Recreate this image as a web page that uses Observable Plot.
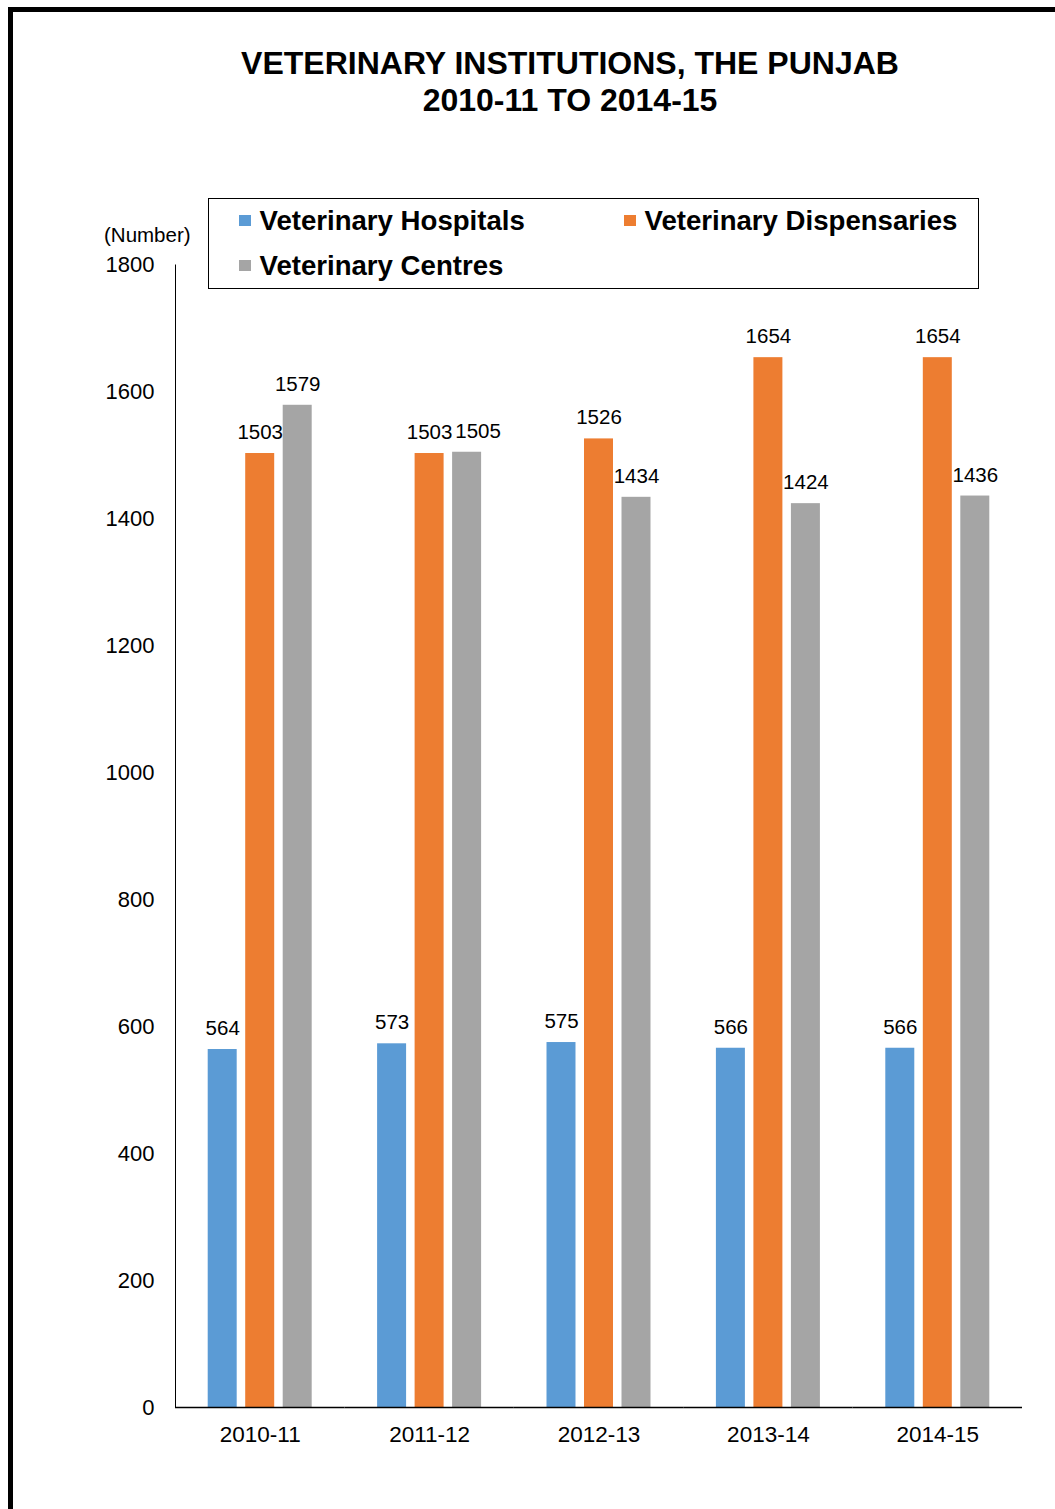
<!DOCTYPE html>
<html>
<head>
<meta charset="utf-8">
<script src="https://cdn.jsdelivr.net/npm/d3@7"></script>
<script src="https://cdn.jsdelivr.net/npm/@observablehq/plot@0.6"></script>
<style>
  html, body { margin: 0; padding: 0; background: #fff; }
  body { font-family: "Liberation Sans", Arial, sans-serif; color: #000; }
  #page { position: relative; width: 1055px; height: 1509px; overflow: hidden; background: #fff; }
  #chart { position: absolute; left: 0; top: 0; }
  .bl { position: absolute; background: #000; }
  #title { position: absolute; left: 0; width: 1140px; top: 45px; text-align: center;
           font-weight: bold; font-size: 32px; line-height: 37px; }
  #unit { position: absolute; left: 104px; top: 225px; font-size: 20.5px; line-height: 20px; }
  #legendBox { position: absolute; left: 208px; top: 198px; width: 769px; height: 89px;
               border: 1.5px solid #000; }
  .item { position: absolute; height: 27px; display: flex; align-items: center;
          font-weight: bold; font-size: 27.6px; line-height: 27px; white-space: nowrap; }
  .sw { display: inline-block; width: 11.5px; height: 11.5px; margin-right: 9px; }
</style>
</head>
<body>
<div id="page">
  <div id="chart"></div>
  <div class="bl" style="left:8px; top:7px; width:5px; height:1502px;"></div>
  <div class="bl" style="left:8px; top:7px; width:1047px; height:5px;"></div>
  <div id="title">VETERINARY INSTITUTIONS, THE PUNJAB<br>2010-11 TO 2014-15</div>
  <div id="unit">(Number)</div>
  <div id="legendBox"></div>
</div>
<script>
const years = ["2010-11", "2011-12", "2012-13", "2013-14", "2014-15"];
const series = ["Veterinary Hospitals", "Veterinary Dispensaries", "Veterinary Centres"];
const hospitals = [564, 573, 575, 566, 566];
const dispensaries = [1503, 1503, 1526, 1654, 1654];
const centres = [1579, 1505, 1434, 1424, 1436];
const colors = ["#5B9BD5", "#ED7D31", "#A5A5A5"];
const yTicks = [0, 200, 400, 600, 800, 1000, 1200, 1400, 1600, 1800];

const values = [hospitals, dispensaries, centres];
const rows = [];
years.forEach((yr, i) => {
  series.forEach((s, j) => rows.push({year: yr, series: s, value: values[j][i]}));
});
const isShifted = d => d.year === "2011-12" && d.series === "Veterinary Centres";

const chart = Plot.plot({
  width: 1055,
  height: 1509,
  marginLeft: 175,
  marginRight: 33,
  marginTop: 264.5,
  marginBottom: 102,
  style: {fontFamily: "'Liberation Sans', Arial, sans-serif", fontSize: "20px", color: "#000", background: "transparent", overflow: "visible"},
  fx: {domain: years, paddingInner: 0, paddingOuter: 0, round: false, label: null},
  x: {domain: series, paddingInner: 0.227, paddingOuter: 0.872, round: false, axis: null},
  y: {domain: [0, 1800], label: null},
  color: {domain: series, range: colors},
  marks: [
    Plot.barY(rows, {fx: "year", x: "series", y: "value", fill: "series"}),
    Plot.ruleY([0], {stroke: "#000", strokeWidth: 1.5}),
    Plot.frame({anchor: "left", facetAnchor: "left", stroke: "#000", strokeWidth: 1}),
    Plot.axisY({ticks: yTicks, tickSize: 0, tickPadding: 21, fontSize: 22, label: null, tickFormat: d => String(d)}),
    Plot.axisFx({anchor: "bottom", tickSize: 0, tickPadding: 19, fontSize: 22.5, label: null}),
    Plot.text(rows.filter(d => !isShifted(d)), {fx: "year", x: "series", y: "value", text: d => String(d.value), dy: -21, fontSize: 20.5, fill: "#000"}),
    Plot.text(rows.filter(isShifted), {fx: "year", x: "series", y: "value", text: d => String(d.value), dy: -21, dx: 11, fontSize: 20.5, fill: "#000"})
  ]
});
document.getElementById("chart").appendChild(chart);

// legend built from the same series/colour arrays
const legendPos = [
  {left: 239, top: 207},
  {left: 624, top: 207},
  {left: 239, top: 252}
];
const page = document.getElementById("page");
series.forEach((s, j) => {
  const it = document.createElement("div");
  it.className = "item";
  it.style.left = legendPos[j].left + "px";
  it.style.top = legendPos[j].top + "px";
  const sw = document.createElement("span");
  sw.className = "sw";
  sw.style.background = colors[j];
  it.appendChild(sw);
  it.appendChild(document.createTextNode(s));
  page.appendChild(it);
});
</script>
</body>
</html>
